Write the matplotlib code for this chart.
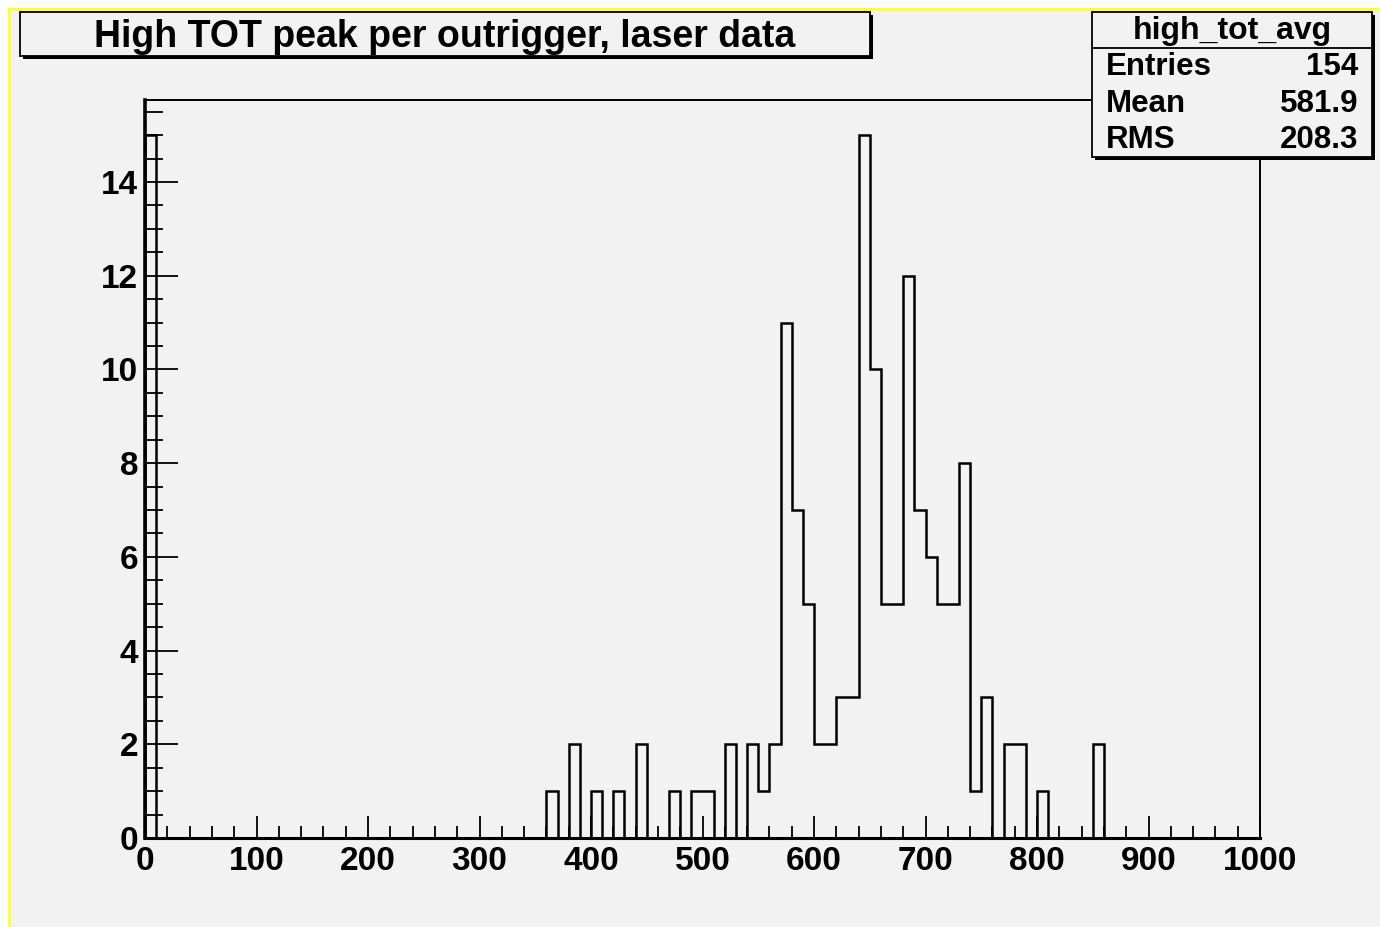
#!/usr/bin/env python3
import numpy as np
import matplotlib
matplotlib.use("Agg")
import matplotlib.pyplot as plt
from matplotlib.patches import Rectangle
from matplotlib.ticker import MultipleLocator

# histogram "high_tot_avg": lower edge of each non-empty 10-wide bin and its count
bin_low = [0, 360, 380, 400, 420, 440, 470, 490, 500, 520, 540, 550, 560,
           570, 580, 590, 600, 610, 620, 630, 640, 650, 660, 670, 680, 690,
           700, 710, 720, 730, 740, 750, 770, 780, 800, 850]
counts = [15, 1, 2, 1, 1, 2, 1, 1, 1, 2, 2, 1, 2,
          11, 7, 5, 2, 2, 3, 3, 15, 10, 5, 5, 12, 7,
          6, 5, 5, 8, 1, 3, 2, 2, 1, 2]
bin_width = 10
x_min, x_max = 0, 1000

title = "High TOT peak per outrigger, laser data"
stats_name = "high_tot_avg"
stats_labels = ["Entries", "Mean", "RMS"]
stats_values = ["154", "581.9", "208.3"]

W, H = 1380, 927
BG = "#f2f2f2"
plt.rcParams['font.family'] = ['Liberation Sans', 'DejaVu Sans']
plt.rcParams['font.weight'] = 'bold'


def fx(px):
    return px / W


def fy(py):
    return 1 - py / H


edges = np.arange(x_min, x_max + bin_width, bin_width)
full = np.zeros(len(edges) - 1)
for lo, c in zip(bin_low, counts):
    full[int((lo - x_min) / bin_width)] = c

fig = plt.figure(figsize=(W / 100, H / 100), dpi=100, facecolor=BG)

# canvas border (white margin + yellow highlight)
fig.add_artist(Rectangle((0, fy(8)), 1, 8 / H, transform=fig.transFigure,
                         facecolor="white", edgecolor="none"))
fig.add_artist(Rectangle((0, 0), 8 / W, 1, transform=fig.transFigure,
                         facecolor="white", edgecolor="none"))
fig.add_artist(Rectangle((fx(8), fy(11)), 1, 3 / H, transform=fig.transFigure,
                         facecolor="#ffff33", edgecolor="none"))
fig.add_artist(Rectangle((fx(8), 0), 3 / W, fy(8), transform=fig.transFigure,
                         facecolor="#ffff33", edgecolor="none"))

ax = fig.add_axes([fx(145), fy(838), fx(1260) - fx(145), fy(100) - fy(838)])
ax.set_facecolor(BG)
ax.stairs(full, edges, color="black", linewidth=1.8)
ax.set_xlim(x_min, x_max)
ax.set_ylim(0, max(counts) * 1.05)

ax.xaxis.set_major_locator(MultipleLocator(100))
ax.xaxis.set_minor_locator(MultipleLocator(20))
ax.yaxis.set_major_locator(MultipleLocator(2))
ax.yaxis.set_minor_locator(MultipleLocator(0.5))
ax.tick_params(axis='x', which='major', direction='in', length=16, width=1.3,
               labelsize=24, pad=6, top=False)
ax.tick_params(axis='x', which='minor', direction='in', length=8.5, width=1.3,
               top=False)
ax.tick_params(axis='y', which='major', direction='in', length=24, width=1.3,
               labelsize=24, pad=5, right=False)
ax.tick_params(axis='y', which='minor', direction='in', length=13, width=1.3,
               right=False)
for lab in ax.get_xticklabels() + ax.get_yticklabels():
    lab.set_fontweight('bold')

ax.spines['left'].set_linewidth(2.6)
ax.spines['bottom'].set_linewidth(2.2)
ax.spines['top'].set_linewidth(1.4)
ax.spines['right'].set_linewidth(1.4)


def box(x0, y0, x1, y1):
    # shadowed ROOT-style pave
    fig.add_artist(Rectangle((fx(x0 + 3), fy(y1 + 3)), (x1 - x0) / W, (y1 - y0) / H,
                             transform=fig.transFigure, facecolor="black",
                             edgecolor="none", zorder=5))
    fig.add_artist(Rectangle((fx(x0), fy(y1)), (x1 - x0) / W, (y1 - y0) / H,
                             transform=fig.transFigure, facecolor=BG,
                             edgecolor="black", linewidth=1.3, zorder=6))


box(20, 12, 870, 56)
fig.text(fx(445), fy(37), title, ha="center", va="center", fontsize=27,
         fontweight="bold", zorder=7)

box(1092, 12, 1372, 157)
fig.add_artist(plt.Line2D([fx(1092), fx(1372)], [fy(48), fy(48)],
                          transform=fig.transFigure, color="black",
                          linewidth=1.3, zorder=7))
fig.text(fx(1232), fy(31), stats_name, ha="center", va="center", fontsize=23,
         fontweight="bold", zorder=7)
for i, (lab, val) in enumerate(zip(stats_labels, stats_values)):
    yy = fy(67 + i * 36.5)
    fig.text(fx(1106), yy, lab, ha="left", va="center", fontsize=22.5,
             fontweight="bold", zorder=7)
    fig.text(fx(1358), yy, val, ha="right", va="center", fontsize=22.5,
             fontweight="bold", zorder=7)

fig.savefig("out.png", dpi=100, facecolor=BG)
